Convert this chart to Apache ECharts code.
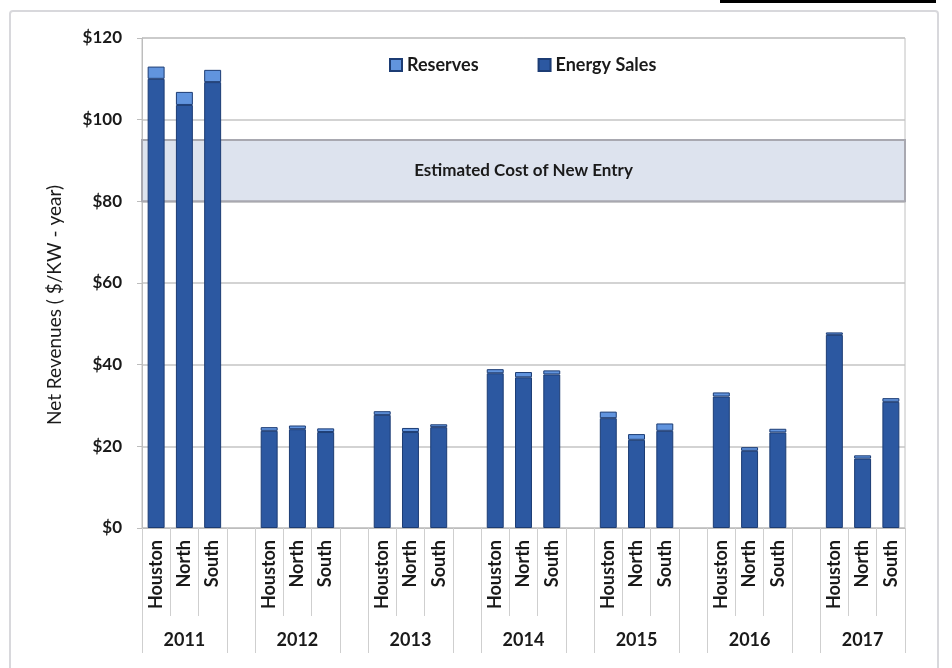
<!DOCTYPE html>
<html>
<head>
    <meta charset="utf-8">
    <title>Net Revenues</title>
    <script src="https://cdn.jsdelivr.net/npm/echarts@6/dist/echarts.min.js"></script>
</head>
<body style="margin:0;background:#fff;">
    <div id="main" style="width:952px;height:668px;"></div>

    <script type="text/javascript">
        // data ($/kW-year)
        var years = ['2011', '2012', '2013', '2014', '2015', '2016', '2017'];
        var regions = ['Houston', 'North', 'South'];
        var energySales = [
            [110.0, 103.6, 109.2],
            [23.8, 24.2, 23.5],
            [27.7, 23.5, 24.7],
            [37.9, 36.9, 37.6],
            [26.9, 21.6, 23.8],
            [32.2, 18.9, 23.4],
            [47.3, 17.0, 30.9]
        ];
        var reserves = [
            [3.0, 3.2, 3.0],
            [0.9, 0.9, 0.9],
            [0.9, 1.0, 0.7],
            [1.0, 1.3, 1.0],
            [1.6, 1.4, 1.8],
            [1.0, 0.9, 0.9],
            [0.6, 0.8, 0.9]
        ];
        var costOfNewEntry = [80, 95];
        var yMin = 0, yMax = 120, yStep = 20;

        // one slot per bar, with an empty slot between years
        var slots = [], yearSlots = [], energyData = [], reserveData = [];
        for (var i = 0; i < years.length; i++) {
            if (i > 0) {
                slots.push(''); yearSlots.push('');
                energyData.push(null); reserveData.push(null);
            }
            for (var j = 0; j < regions.length; j++) {
                slots.push(regions[j]);
                yearSlots.push(j === 1 ? years[i] : '');
                energyData.push(energySales[i][j]);
                reserveData.push(reserves[i][j]);
            }
        }

        var font = 'Lato';
        var myChart = echarts.init(document.getElementById('main'));

        var option = {
            backgroundColor: '#fff',
            textStyle: { fontFamily: font },
            graphic: [
                { type: 'rect', shape: { x: 10, y: 11, width: 928, height: 670, r: 3 },
                  style: { fill: 'none', stroke: '#d8d8dc', lineWidth: 2 } },
                { type: 'rect', shape: { x: 720, y: 0, width: 216, height: 3 },
                  style: { fill: '#000' } }
            ],
            legend: {
                data: ['Reserves', 'Energy Sales'],
                top: 51,
                left: 384,
                icon: 'rect',
                itemWidth: 12,
                itemHeight: 12,
                itemGap: 59,
                textStyle: { fontFamily: font, fontWeight: 'bold', fontSize: 18, color: '#1a1a1a' }
            },
            grid: {
                left: 142, right: 47, top: 38, bottom: 140,
                show: true, borderColor: '#c0c0c0', borderWidth: 1
            },
            xAxis: [{
                type: 'category',
                data: slots,
                axisLine: { lineStyle: { color: '#bdbdbd' } },
                axisTick: { show: true, interval: 0, length: 88, lineStyle: { color: '#cfcfcf' } },
                axisLabel: {
                    interval: 0, rotate: 90, margin: 12,
                    fontFamily: font, fontWeight: 'bold', fontSize: 18, color: '#1a1a1a'
                }
            }, {
                type: 'category',
                data: yearSlots,
                position: 'bottom',
                axisLine: { lineStyle: { color: '#bdbdbd' } },
                axisTick: {
                    show: true,
                    interval: function (idx) { return idx % 4 === 0 || idx % 4 === 3; },
                    length: 125, lineStyle: { color: '#cfcfcf' }
                },
                axisLabel: {
                    interval: 0, margin: 103,
                    fontFamily: font, fontWeight: 'bold', fontSize: 18, color: '#1a1a1a'
                }
            }],
            yAxis: {
                type: 'value',
                min: yMin, max: yMax, interval: yStep,
                name: 'Net Revenues ( $/KW - year)',
                nameLocation: 'middle',
                nameGap: 78,
                nameTextStyle: { fontFamily: font, fontSize: 19, color: '#1a1a1a', padding: [0, 44, 0, 0] },
                axisLine: { show: true, lineStyle: { color: '#bdbdbd' } },
                axisTick: { show: true, length: 5, lineStyle: { color: '#bdbdbd' } },
                axisLabel: {
                    formatter: '${value}', margin: 20,
                    fontFamily: font, fontWeight: 'bold', fontSize: 17, color: '#1a1a1a'
                },
                splitLine: { lineStyle: { color: '#c4c4c4', width: 1.5 } }
            },
            series: [{
                name: 'band',
                type: 'line',
                data: [],
                z: 1,
                markArea: {
                    silent: true,
                    itemStyle: { color: '#dde3ee', borderColor: '#a8a8b0', borderWidth: 2 },
                    label: {
                        show: true, position: 'inside',
                        formatter: 'Estimated Cost of New Entry',
                        fontFamily: font, fontWeight: 'bold', fontSize: 17, color: '#1a1a1a'
                    },
                    data: [[{ yAxis: costOfNewEntry[0] }, { yAxis: costOfNewEntry[1] }]]
                }
            }, {
                name: 'Energy Sales',
                type: 'bar',
                stack: 'rev',
                z: 3,
                barWidth: '60%',
                data: energyData,
                itemStyle: { color: '#2c58a1', borderColor: '#1c3c74', borderWidth: 1 }
            }, {
                name: 'Reserves',
                type: 'bar',
                stack: 'rev',
                z: 3,
                barWidth: '60%',
                data: reserveData,
                itemStyle: { color: '#6194de', borderColor: '#1c3c74', borderWidth: 1 }
            }]
        };

        myChart.setOption(option);
    </script>
</body>
</html>
